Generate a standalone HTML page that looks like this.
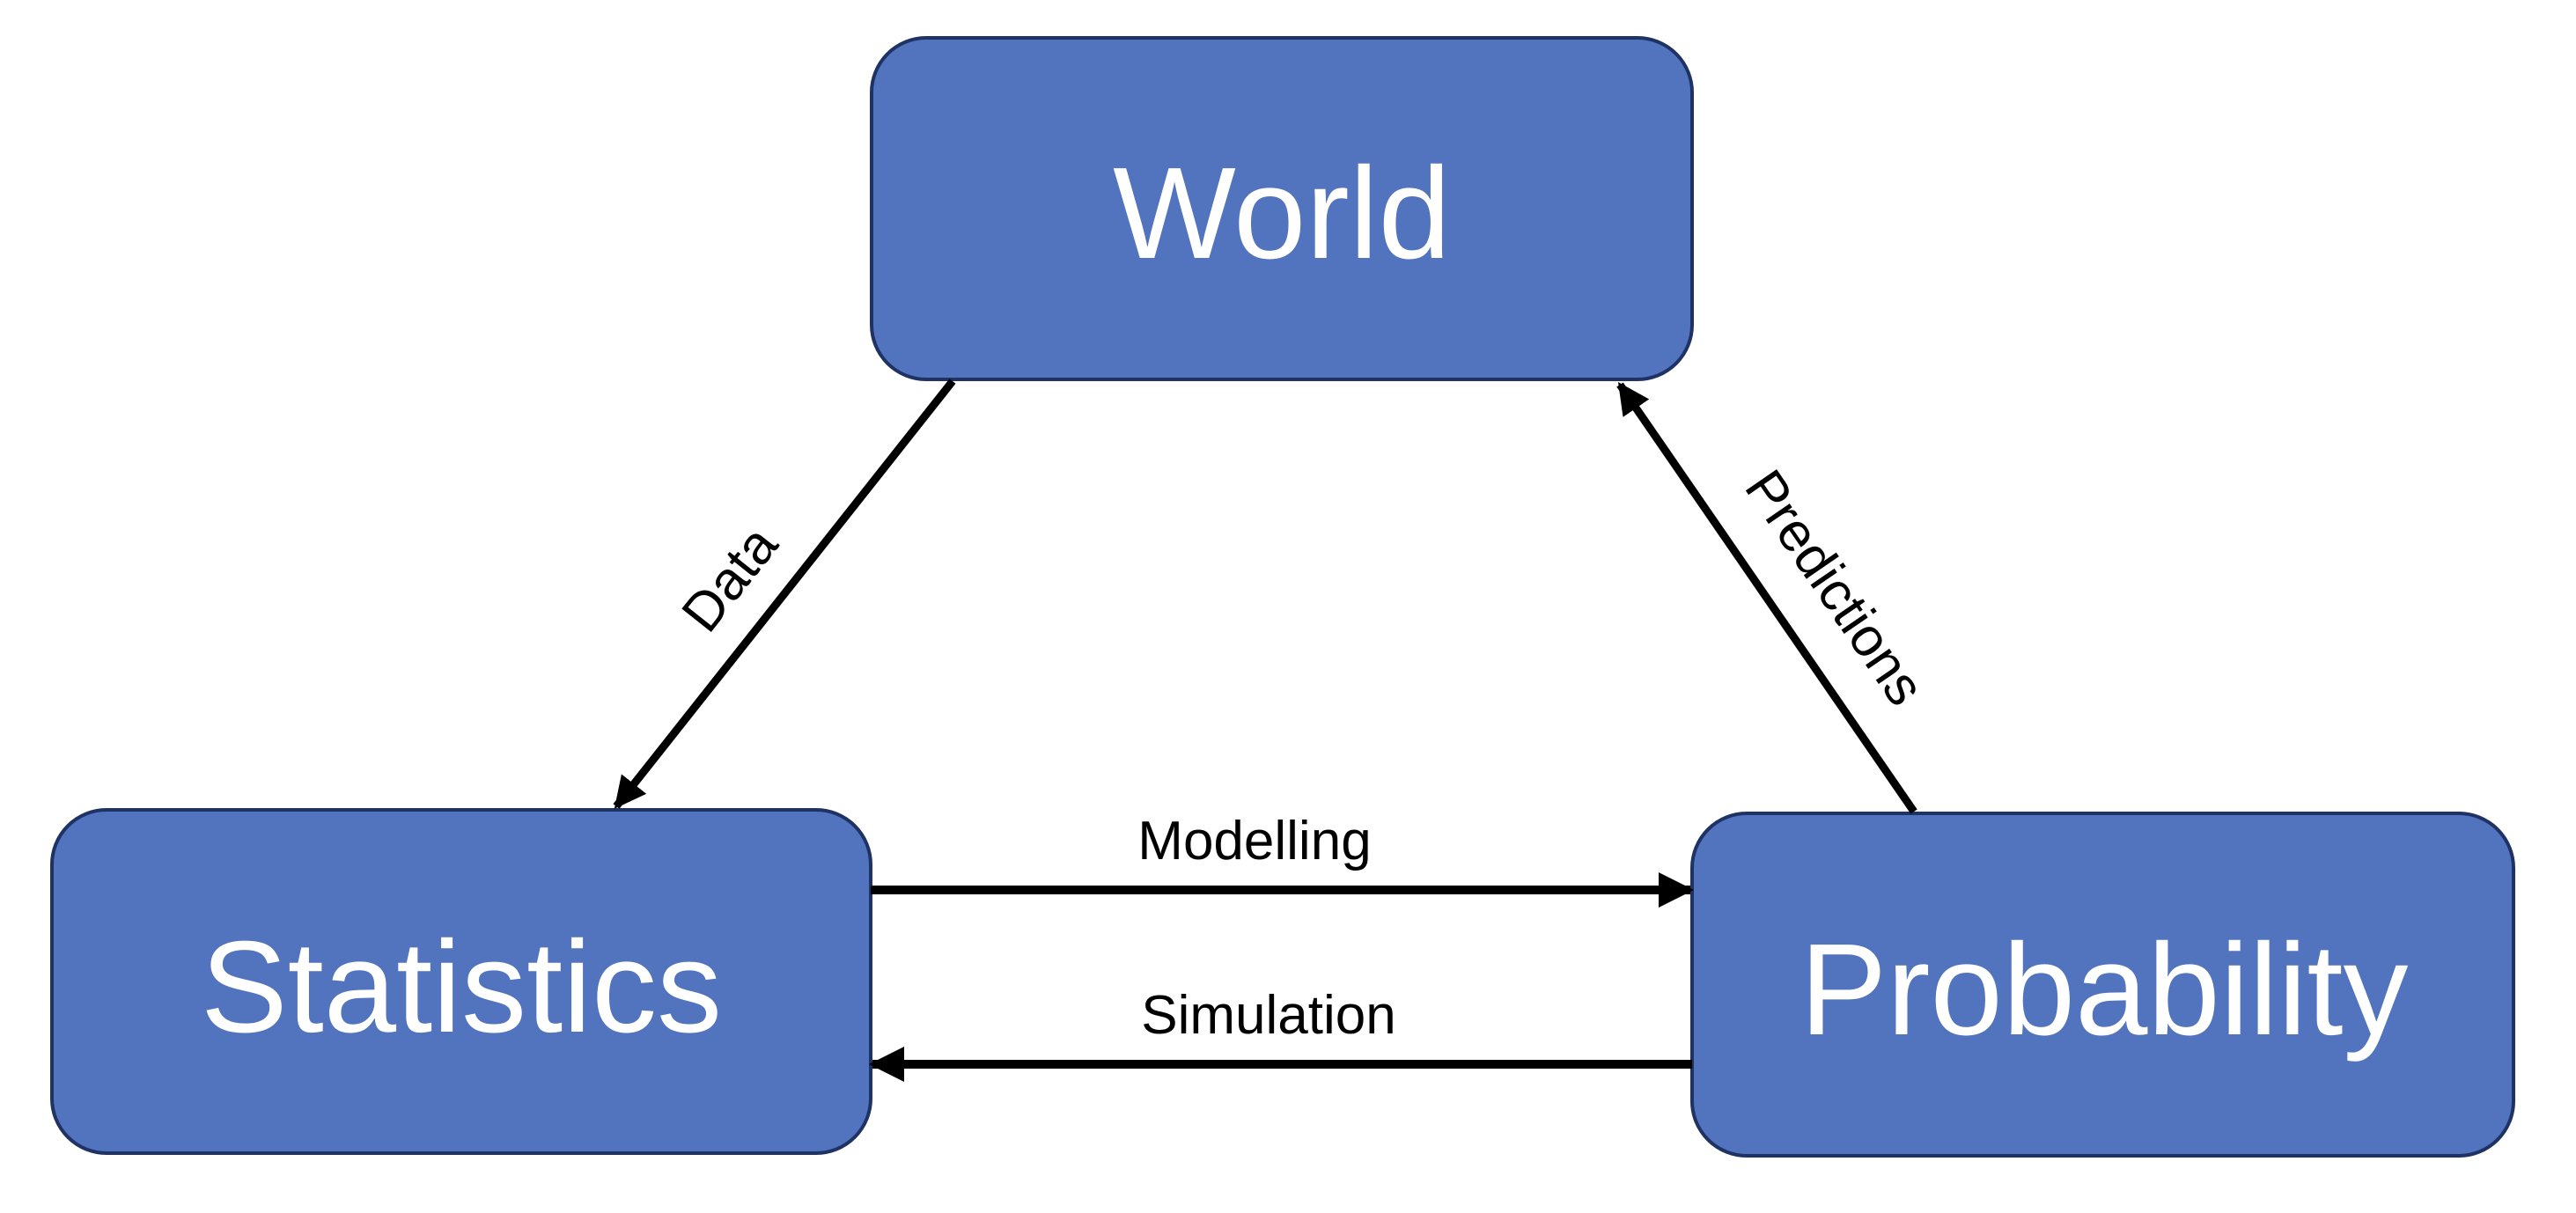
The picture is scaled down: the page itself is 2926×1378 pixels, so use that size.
<!DOCTYPE html>
<html><head><meta charset="utf-8"><style>
html,body{margin:0;padding:0;background:#fff;}
svg{display:block;}
text{font-family:"Liberation Sans",sans-serif;}
</style></head><body>
<svg width="2926" height="1378" viewBox="0 0 2926 1378" xmlns="http://www.w3.org/2000/svg">
<defs>
<marker id="ah" markerWidth="4" markerHeight="4" refX="3.6" refY="2" orient="auto" markerUnits="strokeWidth">
<path d="M0,0 L4,2 L0,4 Z" fill="#000"/>
</marker>
</defs>
<g fill="#5273be" stroke="#1f3264" stroke-width="4">
<rect x="990" y="43" width="932" height="388" rx="62" ry="62"/>
<rect x="59" y="920" width="930" height="390" rx="62" ry="62"/>
<rect x="1922" y="924" width="933" height="389" rx="62" ry="62"/>
</g>
<g fill="#fff" text-anchor="middle" font-size="148">
<text x="1456" y="293">World</text>
<text x="524" y="1172">Statistics</text>
<text x="2390" y="1175">Probability</text>
</g>
<g stroke="#000" fill="none">
<line x1="1082" y1="433" x2="700" y2="916" stroke-width="9" marker-end="url(#ah)"/>
<line x1="2174" y1="922" x2="1840" y2="437" stroke-width="9" marker-end="url(#ah)"/>
<line x1="989" y1="1011" x2="1920" y2="1011" stroke-width="10" marker-end="url(#ah)"/>
<line x1="1922" y1="1209" x2="991" y2="1209" stroke-width="10" marker-end="url(#ah)"/>
</g>
<g fill="#000" text-anchor="middle" font-size="62">
<text x="1425" y="976">Modelling</text>
<text x="1441" y="1174">Simulation</text>
<text transform="translate(828,657) rotate(-51.6)" y="22">Data</text>
<text transform="translate(2085,667) rotate(55.5)" y="22">Predictions</text>
</g>
</svg>
</body></html>
